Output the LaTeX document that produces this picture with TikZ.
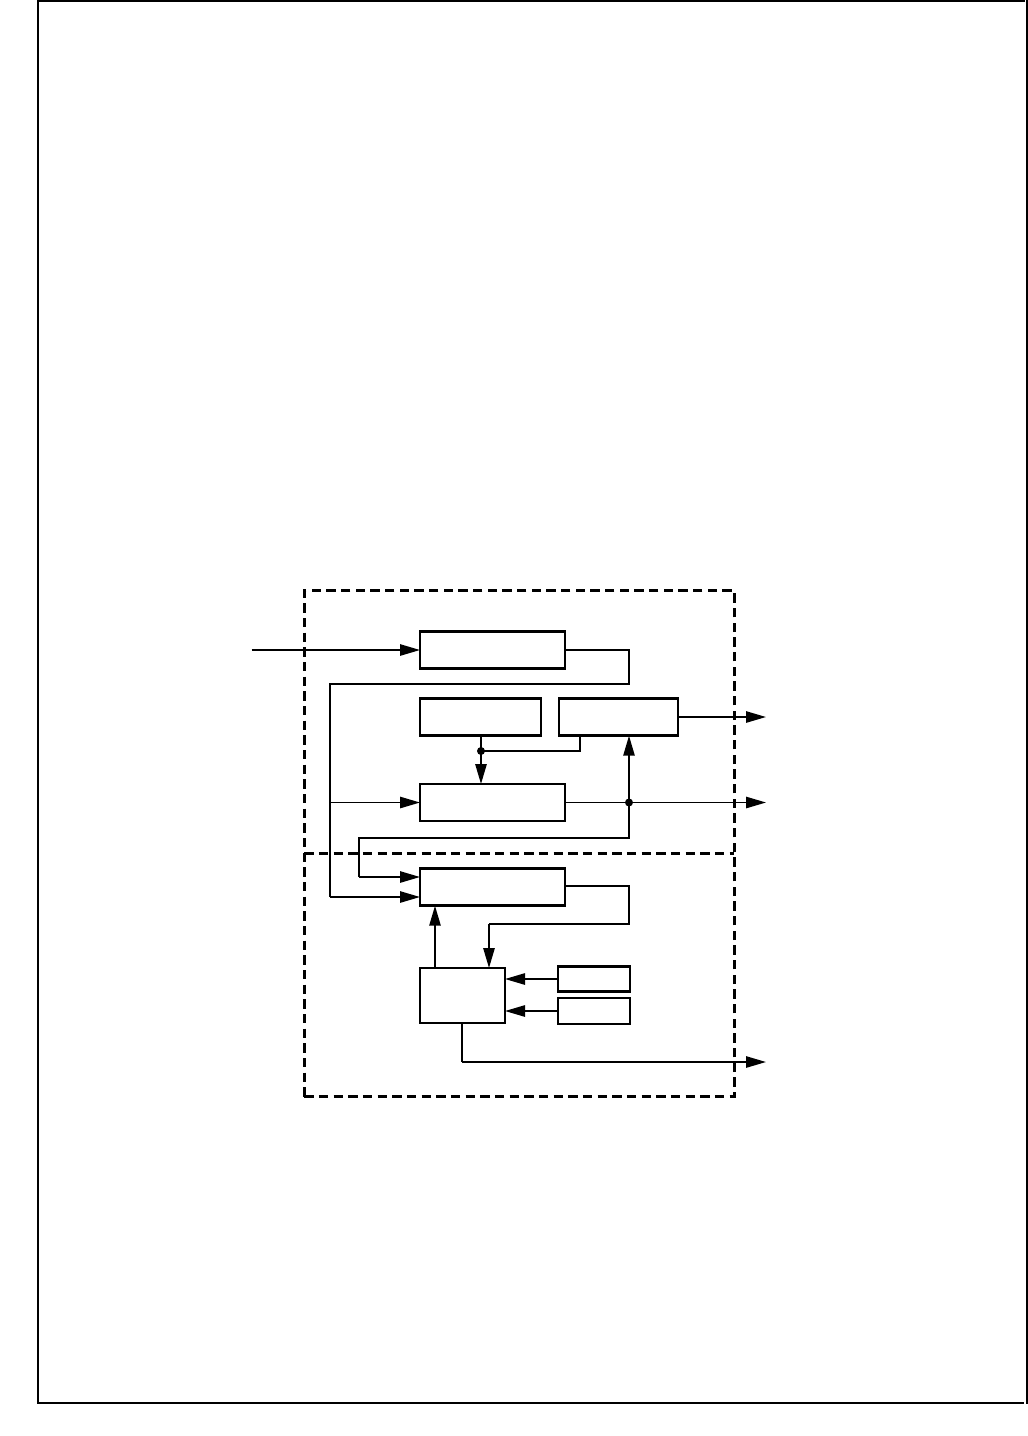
\documentclass[tikz,border=0pt]{standalone}
\usetikzlibrary{arrows.meta}
\begin{document}
\begin{tikzpicture}[x=0.75pt,y=-0.75pt,
  box/.style={draw,line width=2.2pt,inner sep=0pt,outer sep=0pt},
  line/.style={line width=1.3pt},
  arr/.style={line width=1.3pt,-{Triangle[length=15pt,width=8.5pt]}},
  dashbox/.style={draw,line width=1.9pt,dash pattern=on 7pt off 4pt,inner sep=0pt,outer sep=0pt},
  frame/.style={line width=1.5pt},
  jdot/.style={circle,fill,inner sep=0pt,minimum size=6pt}]
\useasboundingbox (0,0) rectangle (1028,1436);
% page frame
\draw[frame] (37.5,0) -- (37.5,1404);
\draw[frame] (39,0.8) -- (1025,0.8);
\draw[frame] (1027,0) -- (1027,1404);
\draw[frame] (39,1403) -- (1024,1403);
% dashed enclosure
\node[dashbox,minimum width=322.5pt,minimum height=379.5pt] (outer) at (519.3,843.7) {};
\coordinate (divy) at (0,853.3);
\draw[line width=1.9pt,dash pattern=on 7pt off 4pt] (outer.west |- divy) -- (outer.east |- divy);
% blocks
\node[box,minimum width=108.75pt,minimum height=27.4pt] (A) at (492.5,650) {};
\node[box,minimum width=90.75pt,minimum height=28.1pt] (B) at (480.5,717) {};
\node[box,minimum width=89.25pt,minimum height=28.1pt] (E) at (618.5,717) {};
\node[box,minimum width=108.75pt,minimum height=27.75pt] (C) at (492.5,802.5) {};
\node[box,minimum width=108.75pt,minimum height=28.1pt] (D) at (492.5,887) {};
\node[box,minimum width=63.75pt,minimum height=41.25pt] (F) at (462.5,995.5) {};
\node[box,minimum width=54pt,minimum height=19.3pt] (G1) at (594,979) {};
\node[box,minimum width=54pt,minimum height=19.5pt] (G2) at (594,1011) {};
% input
\coordinate (in) at (251.7,650);
\draw[arr] (in) -- (A.west);
% A output bus
\coordinate (aTurn) at (629,684);
\coordinate (busTop) at (330,684);
\coordinate (busMid) at (330,802.5);
\coordinate (busBot) at (330,897);
\draw[line] (A.east) -| (aTurn) -- (busTop) -- (busBot);
\draw[arr] (busMid) -- (C.west);
\draw[arr] (busBot) -- (busBot -| D.west);
% B, E to C
\coordinate (dot1) at (481,751);
\coordinate (eTap) at (580,751);
\draw[line] (dot1 |- B.south) -- (dot1);
\draw[line] (eTap |- E.south) -- (eTap) -- (dot1);
\draw[arr] (dot1) -- (dot1 |- C.north);
\node[jdot] (j1) at (dot1) {};
% E output
\coordinate (out1) at (766,717);
\draw[arr] (E.east) -- (out1);
% C output
\coordinate (dot2) at (629,802.5);
\coordinate (out2) at (766,802.5);
\draw[arr] (C.east) -- (out2);
\draw[arr] (dot2) -- (dot2 |- E.south);
\coordinate (c1) at (629,838);
\coordinate (c2) at (359,838);
\coordinate (c3) at (359,877);
\draw[line] (dot2) -- (c1) -- (c2) -- (c3);
\draw[arr] (c3) -- (c3 -| D.west);
\node[jdot] (j2) at (dot2) {};
% D output to F
\coordinate (d1) at (629,886);
\coordinate (d2) at (629,924);
\coordinate (d3) at (489,924);
\draw[line] (d1 -| D.east) -- (d1) -- (d2) -- (d3);
\draw[arr] (d3) -- (d3 |- F.north);
% F to D
\coordinate (f1) at (435,968);
\draw[arr] (f1 |- F.north) -- (f1 |- D.south);
% G to F
\draw[arr] (G1.west) -- (G1.west -| F.east);
\draw[arr] (G2.west) -- (G2.west -| F.east);
% F output
\coordinate (f2) at (462,1062);
\coordinate (out3) at (766,1062);
\draw[line] (f2 |- F.south) -- (f2);
\draw[arr] (f2) -- (out3);
\end{tikzpicture}
\end{document}
